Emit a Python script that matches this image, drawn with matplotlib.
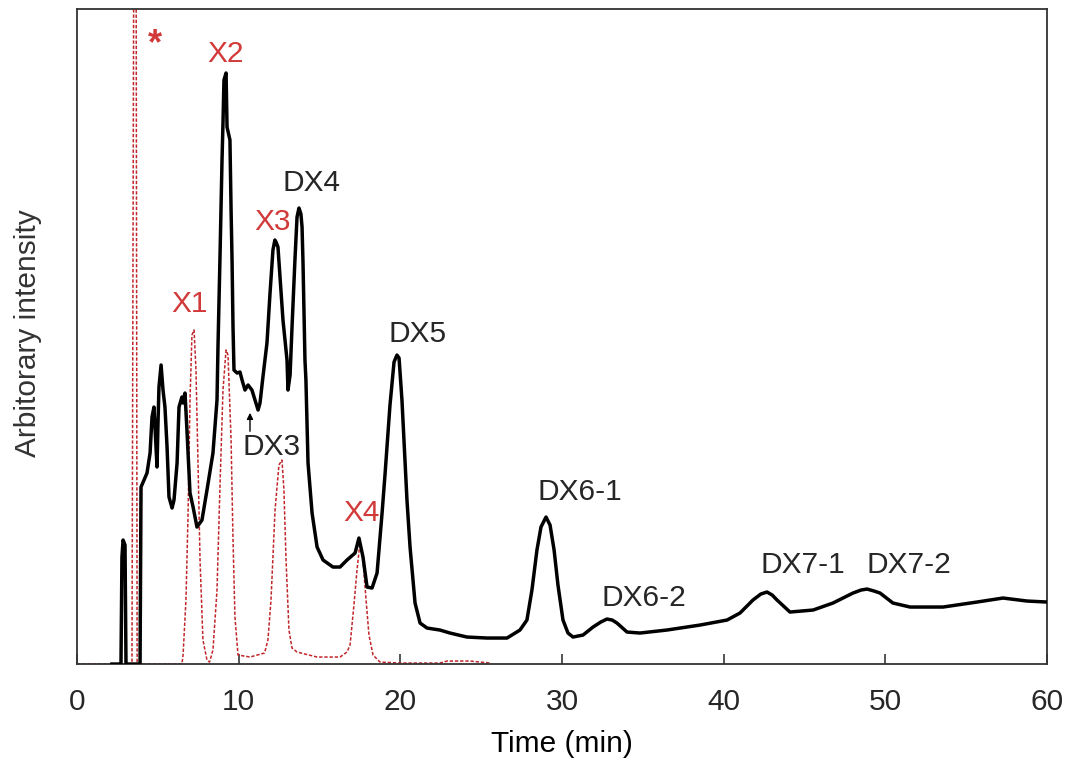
import matplotlib
matplotlib.use('Agg')
import matplotlib.pyplot as plt

# ── Palette ───────────────────────────────────────────────────────────────
C_INK  = '#262626'
C_RED  = '#d23a3a'
C_RLINE = '#c0262b'

plt.rcParams.update({
    'font.family': ['Liberation Sans', 'DejaVu Sans'],
    'font.size':   21.5,
    'text.color':  C_INK,
    'axes.edgecolor': '#333333',
})

# ── Sample chromatogram (black, solid) ────────────────────────────────────
t_sample = [2.16, 2.72, 2.78, 2.85, 2.97, 3.03, 3.90, 3.96, 4.33, 4.52, 4.64, 4.76,
            4.89, 4.95, 5.01, 5.07, 5.20, 5.32, 5.44, 5.57, 5.69, 5.88, 6.00, 6.19,
            6.31, 6.49, 6.56, 6.68, 6.80, 6.99, 7.18, 7.42, 7.73, 8.04, 8.41, 8.66,
            8.72, 8.85, 8.97, 9.03, 9.09, 9.22, 9.28, 9.46, 9.53, 9.59, 9.65, 9.71,
            9.90, 10.08, 10.21, 10.39, 10.58, 10.82, 11.01, 11.20, 11.32, 11.50, 11.75,
            11.94, 12.12, 12.24, 12.31, 12.43, 12.56, 12.74, 12.99, 13.05, 13.18, 13.30,
            13.48, 13.61, 13.73, 13.85, 13.92, 13.98, 14.10, 14.16, 14.29, 14.54, 14.85,
            15.22, 15.83, 16.27, 16.70, 17.20, 17.44, 17.69, 17.94, 18.25, 18.56, 18.87,
            19.05, 19.36, 19.61, 19.79, 19.92, 20.10, 20.41, 20.60, 20.91, 21.22, 21.65,
            22.45, 23.07, 24.12, 25.36, 26.60, 27.40, 27.83, 28.14, 28.45, 28.70, 29.01,
            29.26, 29.51, 29.75, 30.06, 30.37, 30.68, 31.30, 31.92, 32.40, 32.78, 33.10,
            33.40, 34.02, 34.82, 36.49, 38.54, 40.21, 41.01, 41.81, 42.30, 42.68, 43.00,
            43.30, 44.10, 45.53, 46.76, 48.00, 48.50, 48.87, 49.30, 49.67, 50.47, 51.53,
            53.57, 55.67, 57.28, 58.76, 60.00]
i_sample = [0, 0, 107, 124, 119, 0, 0, 177, 191, 211, 247, 257,
            217, 197, 241, 277, 299, 274, 257, 217, 167, 156, 164, 201,
            257, 267, 261, 271, 234, 171, 157, 137, 144, 174, 211, 264,
            317, 411, 504, 541, 584, 591, 537, 524, 454, 404, 337, 294,
            291, 292, 284, 274, 279, 274, 264, 254, 261, 287, 321,
            371, 414, 424, 422, 417, 387, 344, 304, 274, 289, 337,
            404, 447, 456, 450, 437, 401, 304, 284, 201, 151, 117,
            104, 97, 97, 104, 111, 126, 107, 77, 76, 91, 151,
            189, 259, 302, 309, 306, 264, 164, 117, 61, 41, 36,
            34, 31, 27, 26, 26, 34, 44, 74, 114, 137, 147,
            139, 114, 79, 44, 31, 27, 29, 37, 42, 45, 44,
            41, 32, 31, 34, 39, 44, 51, 64, 70, 72, 69,
            64, 52, 54, 61, 71, 74, 75, 73, 71, 61, 57,
            57, 62, 66, 63, 62]

# ── Xylo-oligosaccharide standards (red, dashed) ─────────────────────────
t_std = [0.00, 3.34, 3.40, 3.54, 3.64, 3.72, 6.49, 6.56, 6.74, 6.87, 6.99, 7.11,
         7.24, 7.36, 7.48, 7.61, 7.79, 8.04, 8.20, 8.41, 8.66, 8.85, 9.03, 9.22,
         9.34, 9.53, 9.65, 9.77, 9.96, 10.70, 11.60, 11.81, 12.00, 12.25, 12.49,
         12.68, 12.80, 12.93, 13.11, 13.30, 13.61, 14.85, 16.27, 16.70, 16.89, 17.13,
         17.32, 17.50, 17.69, 17.88, 18.06, 18.31, 18.74, 19.98, 22.45, 22.89, 24.31,
         25.55]
i_std = [0, 0, 0, 900, 900, 0, 0, 9, 64, 151, 264, 329,
         334, 294, 204, 104, 24, 4, 2, 14, 74, 181, 274, 314,
         309, 224, 124, 47, 9, 7, 11, 24, 64, 154, 199,
         204, 174, 104, 34, 16, 12, 7, 7, 12, 19, 59,
         94, 121, 104, 64, 29, 9, 2, 1, 1, 3, 3,
         1]

# ── Peak labels ───────────────────────────────────────────────────────────
red_labels = ['*', 'X1', 'X2', 'X3', 'X4']
red_t      = [4.82, 6.99, 9.16, 12.12, 17.57]
red_i      = [619, 360, 610, 442, 151]

blk_labels = ['DX3', 'DX4', 'DX5', 'DX6-1', 'DX6-2', 'DX7-1', 'DX7-2']
blk_t      = [12.06, 14.53, 21.09, 31.11, 35.07, 44.91, 51.46]
blk_i      = [217, 481, 330, 172, 66, 99, 99]

xticks = [0, 10, 20, 30, 40, 50, 60]

fig = plt.figure(figsize=(10.71, 7.63), dpi=100)
ax = fig.add_axes([0.0719, 0.1297, 0.9057, 0.8585])

ax.plot(t_std, i_std, color=C_RLINE, lw=1.1, ls=(0, (2.2, 1.2)), zorder=2)
ax.plot(t_sample, i_sample, color='black', lw=2.5, zorder=3)

for lab, t, i in zip(red_labels, red_t, red_i):
    if lab == '*':
        ax.text(t, i, lab, color=C_RED, ha='center', va='center',
                fontsize=26, fontweight='bold')
    else:
        ax.text(t, i, lab, color=C_RED, ha='center', va='center')
for lab, t, i in zip(blk_labels, blk_t, blk_i):
    ax.text(t, i, lab, color=C_INK, ha='center', va='center')

# small arrow pointing at DX3 shoulder
ax.annotate('', xy=(10.70, 254), xytext=(10.70, 230),
            arrowprops=dict(arrowstyle='-|>', color='black', lw=1.0,
                            mutation_scale=9))

ax.set_xlim(0, 60)
ax.set_ylim(0, 655)
ax.set_xticks(xticks)
ax.set_yticks([])
ax.tick_params(axis='x', direction='in', length=7, width=1.1, pad=17,
               colors=C_INK)
for s in ax.spines.values():
    s.set_linewidth(1.3)
ax.set_xlabel('Time (min)', labelpad=10)
fig.text(28 / 1071, 1 - 333 / 763, 'Arbitorary intensity', rotation=90,
         ha='center', va='center', color='#333333')

fig.savefig('out.png', dpi=100)
